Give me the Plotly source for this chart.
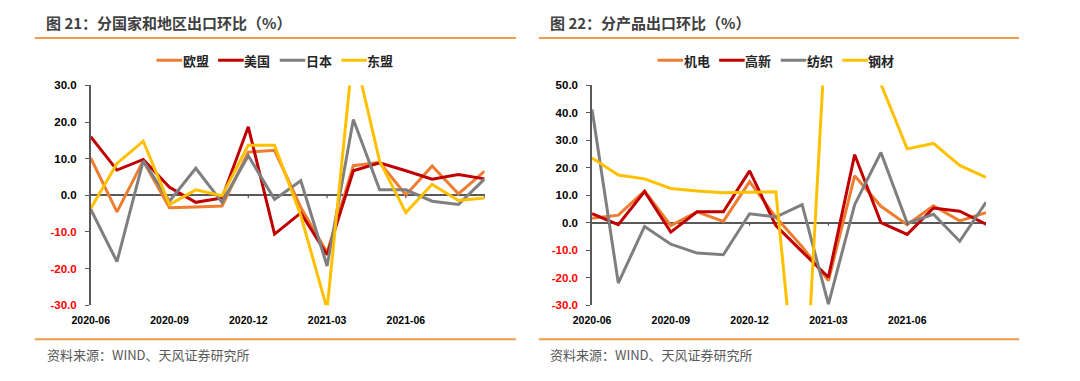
import plotly.graph_objects as go

months = ["2020-06", "2020-07", "2020-08", "2020-09", "2020-10", "2020-11", "2020-12",
          "2021-01", "2021-02", "2021-03", "2021-04", "2021-05", "2021-06", "2021-07",
          "2021-08", "2021-09"]
tick_months = ["2020-06", "2020-09", "2020-12", "2021-03", "2021-06"]

# Panel 1: by country / region (%)
eu = [10.2, -4.5, 9.4, -3.4, -3.2, -2.9, 11.8, 12.3, -3.3, -15.6, 8.1, 9.0, 0.1, 8.0, 0.4, 6.6]
us = [16.0, 6.9, 9.8, 2.2, -1.9, -0.7, 18.7, -10.6, -4.8, -16.2, 6.7, 8.9, 6.7, 4.4, 5.7, 4.5]
japan = [-3.8, -18.1, 9.4, -1.6, 7.4, -1.9, 10.8, -1.1, 4.0, -19.3, 20.7, 1.5, 1.5, -1.6, -2.5, 4.5]
asean = [-3.6, 8.7, 14.8, -2.5, 1.5, -0.1, 13.7, 13.7, -5.5, -31.0, 40.0, 9.4, -4.7, 3.0, -1.4, -0.7]

# Panel 2: by product (%)
mech = [1.7, 2.8, 11.6, -1.0, 4.0, 0.5, 15.0, 2.0, -8.7, -21.0, 17.1, 6.0, -0.7, 6.2, 0.7, 3.7]
hitech = [3.3, -0.7, 11.4, -3.4, 4.0, 4.0, 18.9, -1.0, -10.5, -19.8, 24.8, 0.1, -4.2, 5.4, 4.2, -0.5]
textile = [41.2, -21.9, -1.3, -7.8, -11.0, -11.6, 3.3, 2.1, 6.6, -29.6, 6.6, 25.6, -0.1, 3.1, -6.7, 7.5]
steel = [23.6, 17.4, 16.0, 12.5, 11.6, 10.9, 11.1, 11.3, -85.5, 87.7, 65.0, 50.5, 26.9, 28.9, 20.9, 16.5]

y1_ticks = [-30, -20, -10, 0, 10, 20, 30]
y2_ticks = [-30, -20, -10, 0, 10, 20, 30, 40, 50]

ORANGE = "#ED7D31"
RED = "#C00000"
GRAY = "#7F7F7F"
YELLOW = "#FFC000"
ACCENT = "#F29A4A"
AXIS = "#595959"
W, H = 1080, 381
NUM_FONT = "Liberation Sans, Arial, sans-serif"
CJK_FONT = "Noto Sans CJK SC, sans-serif"


def tick_text(vals):
    out = []
    for v in vals:
        s = f"{v:.1f}"
        out.append(f"<span style='color:#FF0000'>{s}</span>" if v < 0 else s)
    return out


fig = go.Figure()
series1 = [("欧盟", eu, ORANGE), ("美国", us, RED), ("日本", japan, GRAY), ("东盟", asean, YELLOW)]
series2 = [("机电", mech, ORANGE), ("高新", hitech, RED), ("纺织", textile, GRAY), ("钢材", steel, YELLOW)]
for name, vals, col in series1:
    fig.add_trace(go.Scatter(x=months, y=vals, name=name, mode="lines",
                             line=dict(color=col, width=3), xaxis="x", yaxis="y",
                             showlegend=False))
for name, vals, col in series2:
    fig.add_trace(go.Scatter(x=months, y=vals, name=name, mode="lines",
                             line=dict(color=col, width=3), xaxis="x2", yaxis="y2",
                             showlegend=False))

px = lambda v: v / W
py = lambda v: 1 - v / H

PLOT_TOP, PLOT_BOT = 82, 309

xcommon = dict(type="category", categoryorder="array", categoryarray=months,
               range=[0, len(months) - 1], tickmode="array", tickvals=tick_months,
               ticktext=tick_months, showgrid=False, showline=False, zeroline=False,
               ticks="outside", ticklen=5, tickcolor="rgba(0,0,0,0)",
               tickfont=dict(family=NUM_FONT, size=10.5, color="#000000", weight="bold"),
               fixedrange=True)
ycommon = dict(showgrid=False, showline=True, linecolor=AXIS, linewidth=1.5,
               ticks="outside", ticklen=4, tickcolor=AXIS, tickwidth=1.2,
               zeroline=True, zerolinecolor=AXIS, zerolinewidth=1.5,
               tickfont=dict(family=NUM_FONT, size=11.5, color="#000000", weight="bold"),
               ticklabelstandoff=6, fixedrange=True)

y1_range = [-30, 30]
y2_range = [-30, 50]

fig.update_layout(
    width=W, height=H, margin=dict(l=0, r=0, t=0, b=0),
    paper_bgcolor="white", plot_bgcolor="white", showlegend=False,
    xaxis=dict(domain=[px(73), px(474)], anchor="y", **xcommon),
    yaxis=dict(domain=[py(PLOT_BOT), py(PLOT_TOP)], anchor="x", range=y1_range,
               tickvals=y1_ticks, ticktext=tick_text(y1_ticks), **ycommon),
    xaxis2=dict(domain=[px(583.3), px(984.3)], anchor="y2", **xcommon),
    yaxis2=dict(domain=[py(PLOT_BOT), py(PLOT_TOP)], anchor="x2", range=y2_range,
                tickvals=y2_ticks, ticktext=tick_text(y2_ticks), **ycommon),
)

# small tick marks under the zero line at labelled months
for xa, ya, rng in (("x", "y", y1_range), ("x2", "y2", y2_range)):
    tick_len = 3.0 / (PLOT_BOT - PLOT_TOP) * (rng[1] - rng[0])
    for m in tick_months[2:] + [months[-1]]:
        fig.add_shape(type="line", xref=xa, yref=ya, x0=m, x1=m,
                      y0=0, y1=-tick_len, line=dict(color=AXIS, width=1.2))

# legends (line sample + label), one row per panel
LEG_Y = 56
for series, start in ((series1, 140), (series2, 650)):
    for k, (name, _, col) in enumerate(series):
        x0 = start + k * 62.7
        fig.add_shape(type="line", xref="paper", yref="paper", x0=px(x0), x1=px(x0 + 26),
                      y0=py(LEG_Y), y1=py(LEG_Y), line=dict(color=col, width=3))
        fig.add_annotation(text=f"<b>{name}</b>", xref="paper", yref="paper",
                           x=px(x0 + 24.5), y=py(LEG_Y), xanchor="left", yanchor="middle",
                           showarrow=False,
                           font=dict(family=CJK_FONT, size=13, color="#262626"))

# titles, rules and footers
titles = [("图 21：分国家和地区出口环比（%）", 25, 26), ("图 22：分产品出口环比（%）", 538, 538)]
for text, x, xf in titles:
    fig.add_annotation(text=f"<b>{text}</b>", xref="paper", yref="paper",
                       x=px(x), y=py(17), xanchor="left", yanchor="middle", showarrow=False,
                       font=dict(family=CJK_FONT, size=15, color="#404040"))
    fig.add_annotation(text="资料来源：WIND、天风证券研究所", xref="paper", yref="paper",
                       x=px(xf), y=py(360), xanchor="left", yanchor="middle", showarrow=False,
                       font=dict(family=CJK_FONT, size=13, color="#595959"))
for x0, x1 in ((16, 506), (529, 1018)):
    for yy in (33, 344):
        fig.add_shape(type="line", xref="paper", yref="paper", x0=px(x0), x1=px(x1),
                      y0=py(yy), y1=py(yy), line=dict(color=ACCENT, width=2))

fig.write_html("out.html", config={"displayModeBar": False},
               post_script="document.body.style.margin='0';document.body.style.overflow='hidden';")
